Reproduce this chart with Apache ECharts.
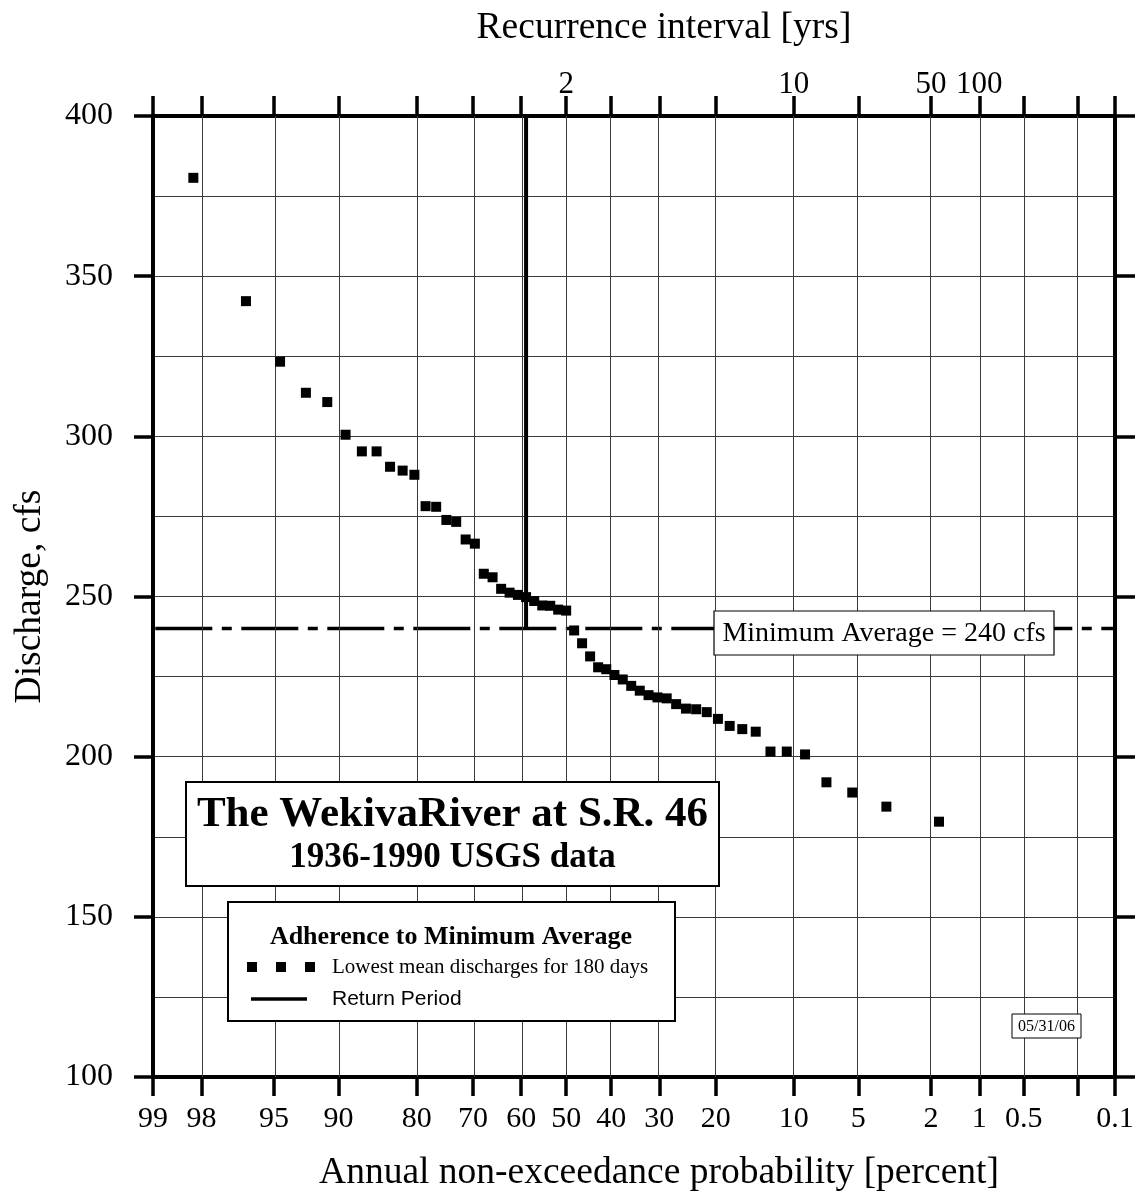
<!DOCTYPE html>
<html>
<head>
<meta charset="utf-8">
<title>Wekiva River low-flow frequency</title>
<script src="https://cdn.jsdelivr.net/npm/echarts@6/dist/echarts.min.js"></script>
<style>
  html, body { margin: 0; padding: 0; background: #ffffff; }
  #chart { width: 1138px; height: 1199px; }
</style>
</head>
<body>
<div id="chart"></div>
<script>
// ---- data -------------------------------------------------------------
// Probability-paper ticks (annual non-exceedance, percent)
const probTicks  = [99, 98, 95, 90, 80, 70, 60, 50, 40, 30, 20, 10, 5, 2, 1, 0.5, 0.2, 0.1];
const probLabels = ['99', '98', '95', '90', '80', '70', '60', '50', '40', '30', '20', '10', '5', '2', '1', '0.5', '', '0.1'];
// Recurrence intervals labelled along the top (years)
const recurrenceYears = [2, 10, 50, 100];
// Discharge axis labels (cfs)
const dischargeTicks = [100, 150, 200, 250, 300, 350, 400];

// Lowest mean discharge for 180 days, ranked highest to lowest, 1936-1990
const nonExceedance = [
  98.21, 96.43, 94.64, 92.86, 91.07, 89.29, 87.50, 85.71, 83.93, 82.14,
  80.36, 78.57, 76.79, 75.00, 73.21, 71.43, 69.64, 67.86, 66.07, 64.29,
  62.50, 60.71, 58.93, 57.14, 55.36, 53.57, 51.79, 50.00, 48.21, 46.43,
  44.64, 42.86, 41.07, 39.29, 37.50, 35.71, 33.93, 32.14, 30.36, 28.57,
  26.79, 25.00, 23.21, 21.43, 19.64, 17.86, 16.07, 14.29, 12.50, 10.71,
  8.93, 7.14, 5.36, 3.57, 1.79
];
const discharge = [
  380.7, 342.2, 323.3, 313.6, 310.7, 300.5, 295.3, 295.3, 290.5, 289.3,
  288.0, 278.2, 278.0, 273.9, 273.3, 267.8, 266.5, 257.1, 256.0, 252.4,
  251.2, 250.5, 249.8, 248.6, 247.2, 247.1, 245.9, 245.6, 239.4, 235.4,
  231.3, 227.9, 227.3, 225.5, 224.1, 222.1, 220.6, 219.2, 218.5, 218.2,
  216.4, 215.0, 214.8, 213.9, 211.8, 209.6, 208.6, 207.8, 201.6, 201.6,
  200.7, 192.0, 188.8, 184.4, 179.7
];
const minimumAverage = 240;        // cfs
const returnPeriodProb = 58.93;    // non-exceedance percent
const dischargeMin = 100;
const dischargeMax = 400;

// ---- probability scale ----------------------------------------------
// Inverse standard normal CDF (Acklam's rational approximation)
function probit(p) {
  const a = [-3.969683028665376e+01, 2.209460984245205e+02, -2.759285104469687e+02,
             1.383577518672690e+02, -3.066479806614716e+01, 2.506628277459239e+00];
  const b = [-5.447609879822406e+01, 1.615858368580409e+02, -1.556989798598866e+02,
             6.680131188771972e+01, -1.328068155288572e+01];
  const c = [-7.784894002430293e-03, -3.223964580411365e-01, -2.400758277161838e+00,
             -2.549732539343734e+00, 4.374664141464968e+00, 2.938163982698783e+00];
  const d = [7.784695709041462e-03, 3.224671290700398e-01, 2.445134137142996e+00,
             3.754408661907416e+00];
  const pl = 0.02425, ph = 1 - pl;
  let q, r;
  if (p < pl) {
    q = Math.sqrt(-2 * Math.log(p));
    return (((((c[0]*q + c[1])*q + c[2])*q + c[3])*q + c[4])*q + c[5]) /
           ((((d[0]*q + d[1])*q + d[2])*q + d[3])*q + 1);
  }
  if (p <= ph) {
    q = p - 0.5; r = q * q;
    return (((((a[0]*r + a[1])*r + a[2])*r + a[3])*r + a[4])*r + a[5]) * q /
           (((((b[0]*r + b[1])*r + b[2])*r + b[3])*r + b[4])*r + 1);
  }
  q = Math.sqrt(-2 * Math.log(1 - p));
  return -(((((c[0]*q + c[1])*q + c[2])*q + c[3])*q + c[4])*q + c[5]) /
          ((((d[0]*q + d[1])*q + d[2])*q + d[3])*q + 1);
}
// Axis coordinate: standard normal variate of the exceedance probability
const xOf = pct => probit(1 - pct / 100);

const X_MIN = xOf(probTicks[0]);
const X_MAX = xOf(probTicks[probTicks.length - 1]);
const tickXs = probTicks.map(xOf);
const labelXs = probTicks.filter((p, i) => probLabels[i] !== '').map(xOf);
const gridXs = probTicks.slice(1, -1).map(xOf);
const recurrenceXs = recurrenceYears.map(t => xOf(100 / t));

function nearestIndex(list, v) {
  let best = 0;
  list.forEach((x, i) => { if (Math.abs(x - v) < Math.abs(list[best] - v)) best = i; });
  return best;
}

const SERIF = '"Liberation Serif", "Times New Roman", Times, serif';
const SANS = '"Liberation Sans", Arial, Helvetica, sans-serif';

const points = nonExceedance.map((p, i) => [xOf(p), discharge[i]]);
const rpX = xOf(returnPeriodProb);

// ---- chart ----------------------------------------------------------
const chart = echarts.init(document.getElementById('chart'), null, { renderer: 'canvas' });

chart.setOption({
  animation: false,
  backgroundColor: '#ffffff',
  grid: { left: 153, right: 23, top: 116, bottom: 122, containLabel: false, outerBoundsMode: 'none' },
  xAxis: [
    {
      type: 'value', position: 'bottom', min: X_MIN, max: X_MAX,
      axisLine: { show: true, onZero: false, lineStyle: { color: '#000', width: 4 } },
      axisTick: { show: true, inside: false, length: 19, customValues: tickXs,
                  lineStyle: { color: '#000', width: 3.5 } },
      axisLabel: { show: true, customValues: labelXs, margin: 27, color: '#000',
                   fontSize: 30, fontFamily: SERIF, hideOverlap: false,
                   formatter: v => probLabels[nearestIndex(tickXs, v)] },
      splitLine: { show: false },
      name: 'Annual non-exceedance probability [percent]',
      nameLocation: 'middle', nameGap: 77, nameMoveOverlap: false,
      nameTextStyle: { color: '#000', fontSize: 37.5, fontFamily: SERIF, padding: [0, 0, 0, 50] }
    },
    {
      type: 'value', position: 'top', min: X_MIN, max: X_MAX,
      axisLine: { show: true, onZero: false, lineStyle: { color: '#000', width: 4 } },
      axisTick: { show: true, inside: false, length: 20, customValues: tickXs,
                  lineStyle: { color: '#000', width: 3.5 } },
      axisLabel: { show: true, customValues: recurrenceXs, margin: 16, color: '#000',
                   fontSize: 31, fontFamily: SERIF, hideOverlap: false,
                   formatter: v => String(recurrenceYears[nearestIndex(recurrenceXs, v)]) },
      splitLine: { show: false },
      name: 'Recurrence interval [yrs]',
      nameLocation: 'middle', nameGap: 69, nameMoveOverlap: false,
      nameTextStyle: { color: '#000', fontSize: 37.5, fontFamily: SERIF, padding: [0, 0, 0, 60] }
    }
  ],
  yAxis: [
    {
      type: 'value', position: 'left', min: dischargeMin, max: dischargeMax, interval: 25,
      axisLine: { show: true, onZero: false, lineStyle: { color: '#000', width: 4 } },
      axisTick: { show: false },
      axisLabel: { show: false },
      splitLine: { show: true, lineStyle: { color: '#3a3a3a', width: 1 } }
    },
    {
      type: 'value', position: 'left', min: dischargeMin, max: dischargeMax, interval: 50,
      axisLine: { show: false, onZero: false },
      axisTick: { show: true, inside: false, length: 19, lineStyle: { color: '#000', width: 3.5 } },
      axisLabel: { show: true, margin: 40, color: '#000', fontSize: 32, fontFamily: SERIF,
                   formatter: v => dischargeTicks.includes(v) ? String(v) : '' },
      splitLine: { show: false },
      name: 'Discharge, cfs', nameLocation: 'middle', nameGap: 104, nameRotate: 90,
      nameMoveOverlap: false,
      nameTextStyle: { color: '#000', fontSize: 37.5, fontFamily: SERIF }
    },
    {
      type: 'value', position: 'right', min: dischargeMin, max: dischargeMax, interval: 50,
      axisLine: { show: true, onZero: false, lineStyle: { color: '#000', width: 4 } },
      axisTick: { show: true, inside: false, length: 20, lineStyle: { color: '#000', width: 3.5 } },
      axisLabel: { show: false },
      splitLine: { show: false }
    }
  ],
  series: [
    {
      // probability grid lines + return period marker
      name: 'Return Period', type: 'line', xAxisIndex: 0, yAxisIndex: 0, z: 3,
      data: [[rpX, dischargeMax], [rpX, minimumAverage]],
      symbol: 'none', silent: true,
      lineStyle: { color: '#000', width: 4 },
      markLine: {
        silent: true, symbol: ['none', 'none'], label: { show: false },
        lineStyle: { color: '#3a3a3a', width: 1, type: 'solid' },
        emphasis: { disabled: true },
        data: gridXs.map(x => ({ xAxis: x }))
      }
    },
    {
      name: 'Minimum Average', type: 'line', xAxisIndex: 0, yAxisIndex: 0, z: 4,
      data: [[X_MIN, minimumAverage], [X_MAX, minimumAverage]],
      symbol: 'none', silent: true,
      lineStyle: { color: '#000', width: 3.5, type: [57, 9.5, 10, 9.5], dashOffset: 83.7, cap: 'butt' }
    },
    {
      name: 'Lowest mean discharges for 180 days', type: 'scatter',
      xAxisIndex: 0, yAxisIndex: 0, z: 5,
      data: points, symbol: 'rect', symbolSize: 10,
      itemStyle: { color: '#000', opacity: 1 }, silent: true
    }
  ],
  graphic: [
    // title block
    { type: 'rect', z: 100, shape: { x: 186, y: 782, width: 533, height: 104 },
      style: { fill: '#fff', stroke: '#000', lineWidth: 2 } },
    { type: 'text', z: 101, x: 452.5, y: 815,
      style: { text: 'The WekivaRiver at S.R. 46', fill: '#000', font: 'bold 43px ' + SERIF,
               textAlign: 'center', textVerticalAlign: 'middle' } },
    { type: 'text', z: 101, x: 452.5, y: 858,
      style: { text: '1936-1990 USGS data', fill: '#000', font: 'bold 35px ' + SERIF,
               textAlign: 'center', textVerticalAlign: 'middle' } },

    // legend block
    { type: 'rect', z: 100, shape: { x: 228, y: 902, width: 447, height: 119 },
      style: { fill: '#fff', stroke: '#000', lineWidth: 2 } },
    { type: 'text', z: 101, x: 451, y: 937,
      style: { text: 'Adherence to Minimum Average', fill: '#000', font: 'bold 26px ' + SERIF,
               textAlign: 'center', textVerticalAlign: 'middle' } },
    { type: 'rect', z: 101, shape: { x: 247, y: 962, width: 10, height: 10 }, style: { fill: '#000' } },
    { type: 'rect', z: 101, shape: { x: 276, y: 962, width: 10, height: 10 }, style: { fill: '#000' } },
    { type: 'rect', z: 101, shape: { x: 305, y: 962, width: 10, height: 10 }, style: { fill: '#000' } },
    { type: 'text', z: 101, x: 332, y: 967,
      style: { text: 'Lowest mean discharges for 180 days', fill: '#000', font: '21px ' + SERIF,
               textAlign: 'left', textVerticalAlign: 'middle' } },
    { type: 'line', z: 101, shape: { x1: 251, y1: 999, x2: 307, y2: 999 },
      style: { stroke: '#000', lineWidth: 3.5 } },
    { type: 'text', z: 101, x: 332, y: 999,
      style: { text: 'Return Period', fill: '#000', font: '21px ' + SANS,
               textAlign: 'left', textVerticalAlign: 'middle' } },

    // minimum average annotation
    { type: 'rect', z: 100, shape: { x: 714, y: 611, width: 340, height: 44 },
      style: { fill: '#fff', stroke: '#000', lineWidth: 1.2 } },
    { type: 'text', z: 101, x: 884, y: 634,
      style: { text: 'Minimum Average = ' + minimumAverage + ' cfs', fill: '#000', font: '28px ' + SERIF,
               textAlign: 'center', textVerticalAlign: 'middle' } },

    // date stamp
    { type: 'rect', z: 100, shape: { x: 1012, y: 1014, width: 69, height: 24 },
      style: { fill: '#fff', stroke: '#000', lineWidth: 1 } },
    { type: 'text', z: 101, x: 1046.5, y: 1026.5,
      style: { text: '05/31/06', fill: '#000', font: '16px ' + SERIF,
               textAlign: 'center', textVerticalAlign: 'middle' } }
  ]
});
</script>
</body>
</html>
